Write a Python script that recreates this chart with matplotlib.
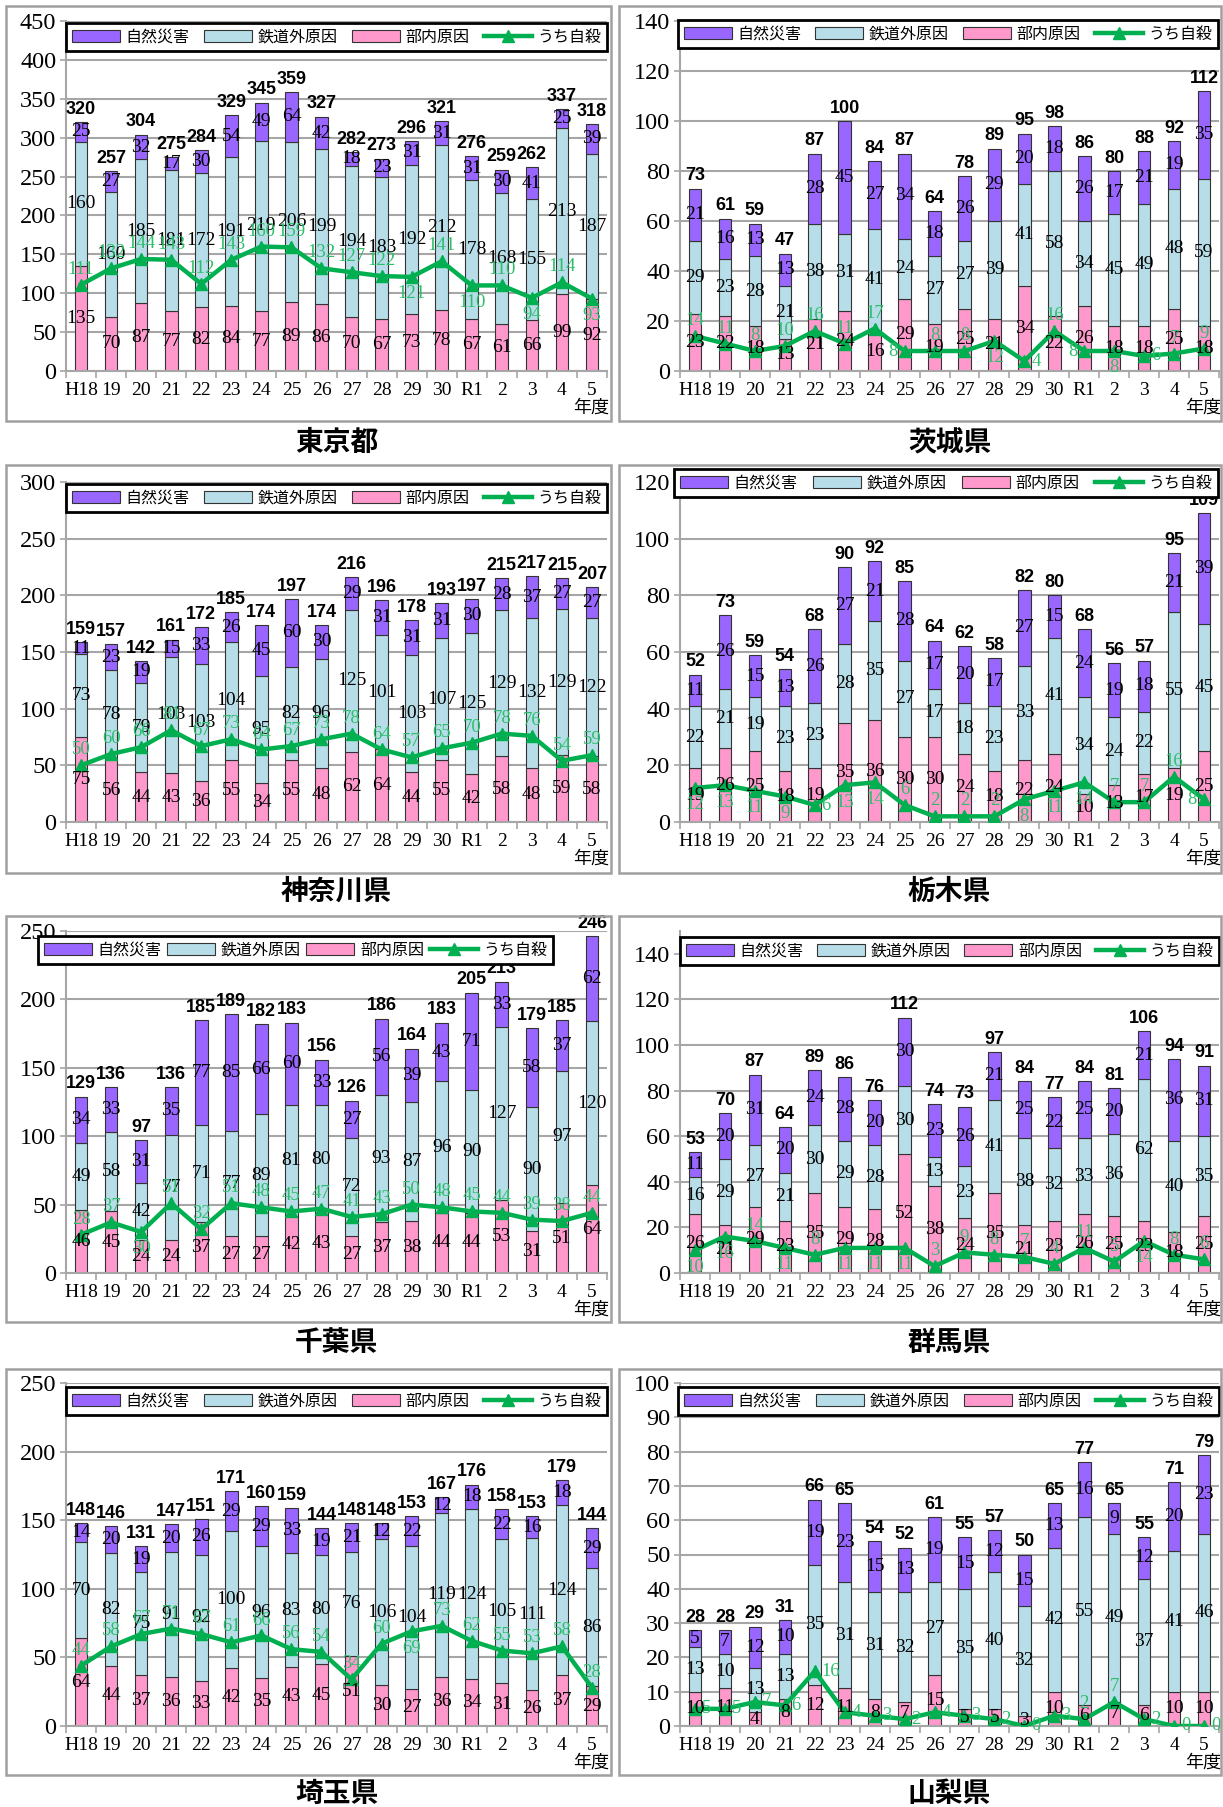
import numpy as np
import matplotlib.pyplot as plt
from matplotlib.patches import Patch, Rectangle
from matplotlib.lines import Line2D

plt.rcParams['font.family'] = ['Liberation Serif', 'Noto Sans CJK JP']

years = ['H18', '19', '20', '21', '22', '23', '24', '25', '26', '27',
         '28', '29', '30', 'R1', '2', '3', '4', '5']

# 自然災害 / 鉄道外原因 / 部内原因 / うち自殺
tokyo_nat = [25, 27, 32, 17, 30, 54, 49, 64, 42, 18, 23, 31, 31, 31, 30, 41, 25, 39]
tokyo_ext = [160, 160, 185, 181, 172, 191, 219, 206, 199, 194, 183, 192, 212, 178, 168, 155, 213, 187]
tokyo_int = [135, 70, 87, 77, 82, 84, 77, 89, 86, 70, 67, 73, 78, 67, 61, 66, 99, 92]
tokyo_sui = [111, 132, 144, 143, 112, 143, 160, 159, 132, 127, 122, 121, 141, 110, 110, 94, 114, 93]

ibaraki_nat = [21, 16, 13, 13, 28, 45, 27, 34, 18, 26, 29, 20, 18, 26, 17, 21, 19, 35]
ibaraki_ext = [29, 23, 28, 21, 38, 31, 41, 24, 27, 27, 39, 41, 58, 34, 45, 49, 48, 59]
ibaraki_int = [23, 22, 18, 13, 21, 24, 16, 29, 19, 25, 21, 34, 22, 26, 18, 18, 25, 18]
ibaraki_sui = [14, 11, 8, 10, 16, 11, 17, 8, 8, 8, 12, 4, 16, 8, 8, 6, 7, 9]

kanagawa_nat = [11, 23, 19, 15, 33, 26, 45, 60, 30, 29, 31, 31, 31, 30, 28, 37, 27, 27]
kanagawa_ext = [73, 78, 79, 103, 103, 104, 95, 82, 96, 125, 101, 103, 107, 125, 129, 132, 129, 122]
kanagawa_int = [75, 56, 44, 43, 36, 55, 34, 55, 48, 62, 64, 44, 55, 42, 58, 48, 59, 58]
kanagawa_sui = [50, 60, 66, 81, 67, 73, 64, 67, 73, 78, 64, 57, 65, 70, 78, 76, 54, 59]

tochigi_nat = [11, 26, 15, 13, 26, 27, 21, 28, 17, 20, 17, 27, 15, 24, 19, 18, 21, 39]
tochigi_ext = [22, 21, 19, 23, 23, 28, 35, 27, 17, 18, 23, 33, 41, 34, 24, 22, 55, 45]
tochigi_int = [19, 26, 25, 18, 19, 35, 36, 30, 30, 24, 18, 22, 24, 10, 13, 17, 19, 25]
tochigi_sui = [12, 13, 11, 9, 6, 13, 14, 6, 2, 2, 2, 8, 11, 14, 7, 7, 16, 8]

chiba_nat = [34, 33, 31, 35, 77, 85, 66, 60, 33, 27, 56, 39, 43, 71, 33, 58, 37, 62]
chiba_ext = [49, 58, 42, 77, 71, 77, 89, 81, 80, 72, 93, 87, 96, 90, 127, 90, 97, 120]
chiba_int = [46, 45, 24, 24, 37, 27, 27, 42, 43, 27, 37, 38, 44, 44, 53, 31, 51, 64]
chiba_sui = [28, 37, 30, 51, 32, 51, 48, 45, 47, 41, 43, 50, 48, 45, 44, 39, 38, 44]

gunma_nat = [11, 20, 31, 20, 24, 28, 20, 30, 23, 26, 21, 25, 22, 25, 20, 21, 36, 31]
gunma_ext = [16, 29, 27, 21, 30, 29, 28, 30, 13, 23, 41, 38, 32, 33, 36, 62, 40, 35]
gunma_int = [26, 21, 29, 23, 35, 29, 28, 52, 38, 24, 35, 21, 23, 26, 25, 23, 18, 25]
gunma_sui = [10, 16, 14, 11, 8, 11, 11, 11, 3, 9, 8, 7, 4, 11, 5, 14, 8, 6]

saitama_nat = [14, 20, 19, 20, 26, 29, 29, 33, 19, 21, 12, 22, 12, 18, 22, 16, 18, 29]
saitama_ext = [70, 82, 75, 91, 92, 100, 96, 83, 80, 76, 106, 104, 119, 124, 105, 111, 124, 86]
saitama_int = [64, 44, 37, 36, 33, 42, 35, 43, 45, 51, 30, 27, 36, 34, 31, 26, 37, 29]
saitama_sui = [44, 58, 67, 71, 67, 61, 66, 56, 54, 34, 60, 69, 73, 62, 55, 53, 58, 28]

yamanashi_nat = [5, 7, 12, 10, 19, 23, 15, 13, 19, 15, 12, 15, 13, 16, 9, 12, 20, 23]
yamanashi_ext = [13, 10, 13, 13, 35, 31, 31, 32, 27, 35, 40, 32, 42, 55, 49, 37, 41, 46]
yamanashi_int = [10, 11, 4, 8, 12, 11, 8, 7, 15, 5, 5, 3, 10, 6, 7, 6, 10, 10]
yamanashi_sui = [5, 5, 7, 6, 16, 4, 3, 2, 4, 3, 2, 0, 3, 2, 7, 2, 0, 0]

W, H = 1223, 1807
C_NAT, C_EXT, C_INT = '#9966FF', '#B7DEE8', '#FF99CC'
C_LINE, C_LTXT = '#00B050', '#2DBE6C'
GRID = '#A6A6A6'
CJK = ['Noto Sans CJK JP', 'DejaVu Sans']

# column / row geometry in pixels
cols = [dict(box=(6, 611), ax=(66, 607)), dict(box=(619, 1221), ax=(680, 1219))]
rows = [dict(box=(6, 421), ax=(21, 371), title=443),
        dict(box=(465, 873), ax=(482, 822), title=892),
        dict(box=(916, 1322), ax=(931, 1273), title=1343),
        dict(box=(1369, 1775), ax=(1383, 1726), title=1794)]

# name, data, ymax, ystep, ytick max, suicide label side, legend box (x0, x1, ytop)
panels = [
    ('東京都', tokyo_nat, tokyo_ext, tokyo_int, tokyo_sui, 450, 50, 450, 'aaaaaaaaaaabababab', (66, 607, 23)),
    ('茨城県', ibaraki_nat, ibaraki_ext, ibaraki_int, ibaraki_sui, 140, 20, 140, 'aaaaaaalaabralbraa', (678, 1218, 20)),
    ('神奈川県', kanagawa_nat, kanagawa_ext, kanagawa_int, kanagawa_sui, 300, 50, 300, 'aaaaaaaaaaaaaaaaaa', (66, 607, 484)),
    ('栃木県', tochigi_nat, tochigi_ext, tochigi_int, tochigi_sui, 120, 20, 120, 'bbbbrbbaaaabbbaaal', (674, 1218, 469)),
    ('千葉県', chiba_nat, chiba_ext, chiba_int, chiba_sui, 250, 50, 250, 'aabaaaaaaaaaaaaaaa', (38, 553, 936)),
    ('群馬県', gunma_nat, gunma_ext, gunma_int, gunma_sui, 150, 20, 140, 'bbababbbaaaaaaabaa', (680, 1219, 937)),
    ('埼玉県', saitama_nat, saitama_ext, saitama_int, saitama_sui, 250, 50, 250, 'aaaaaaaaaaabaaaaaa', (66, 607, 1387)),
    ('山梨県', yamanashi_nat, yamanashi_ext, yamanashi_int, yamanashi_sui, 100, 10, 100, 'rrrrrrrrrrrrraarrr', (678, 1219, 1387)),
]

fig = plt.figure(figsize=(W / 100, H / 100), dpi=100)
x = np.arange(len(years))
bw = 0.42
offs = {'a': ((0, 5), 'center', 'bottom'), 'b': ((0, -6), 'center', 'top'),
        'r': ((5, 0), 'left', 'center'), 'l': ((-5, 0), 'right', 'center')}

for i, (name, nat, ext, inn, sui, ymax, ystep, ytop, sides, leg) in enumerate(panels):
    c = cols[i % 2]
    r = rows[i // 2]
    bx0, bx1 = c['box']
    by0, by1 = r['box']
    fig.add_artist(Rectangle((bx0 / W, 1 - by1 / H), (bx1 - bx0) / W, (by1 - by0) / H,
                             transform=fig.transFigure, fill=False, edgecolor='#A0A0A0', lw=1.8))
    ax0, ax1 = c['ax']
    ay0, ay1 = r['ax']
    ax = fig.add_axes([ax0 / W, 1 - ay1 / H, (ax1 - ax0) / W, (ay1 - ay0) / H])
    nat, ext, inn, sui = map(np.array, (nat, ext, inn, sui))
    tot = nat + ext + inn

    ax.bar(x, inn, bw, color=C_INT, edgecolor='#333333', lw=0.8, zorder=2)
    ax.bar(x, ext, bw, bottom=inn, color=C_EXT, edgecolor='#333333', lw=0.8, zorder=2)
    ax.bar(x, nat, bw, bottom=inn + ext, color=C_NAT, edgecolor='#333333', lw=0.8, zorder=2)
    ax.plot(x, sui, color=C_LINE, lw=3.2, marker='^', ms=9, zorder=4)

    for j in range(len(x)):
        ax.text(x[j], inn[j] / 2, str(inn[j]), ha='center', va='center', fontsize=14, zorder=5)
        ax.text(x[j], inn[j] + ext[j] / 2, str(ext[j]), ha='center', va='center', fontsize=14, zorder=5)
        ax.text(x[j], inn[j] + ext[j] + nat[j] / 2, str(nat[j]), ha='center', va='center', fontsize=14, zorder=5)
        ax.annotate(str(tot[j]), (x[j], tot[j]), xytext=(0, 3), textcoords='offset points',
                    ha='center', va='bottom', fontsize=13, fontweight='bold',
                    family='Liberation Sans', zorder=5)
        off, ha, va = offs[sides[j]]
        ax.annotate(str(sui[j]), (x[j], sui[j]), xytext=off, textcoords='offset points',
                    ha=ha, va=va, fontsize=13.5, color=C_LTXT, zorder=6)

    ax.set_xlim(-0.5, len(x) - 0.5)
    ax.set_ylim(0, ymax)
    ax.set_yticks(np.arange(0, ytop + 1, ystep))
    ax.set_xticks(x)
    ax.set_xticklabels(years)
    ax.set_xticks(np.arange(-0.5, len(x), 1), minor=True)
    ax.tick_params(axis='x', which='major', length=0, labelsize=14, pad=8)
    ax.tick_params(axis='x', which='minor', length=5, color=GRID, width=1.2)
    ax.tick_params(axis='y', labelsize=17.5, length=4, color=GRID, width=1.2, pad=3)
    ax.yaxis.grid(True, color=GRID, lw=1.5)
    ax.set_axisbelow(True)
    for s in ('top', 'right'):
        ax.spines[s].set_visible(False)
    for s in ('left', 'bottom'):
        ax.spines[s].set_color(GRID)
        ax.spines[s].set_linewidth(1.5)

    handles = [Patch(facecolor=C_NAT, edgecolor='#333333', lw=0.8),
               Patch(facecolor=C_EXT, edgecolor='#333333', lw=0.8),
               Patch(facecolor=C_INT, edgecolor='#333333', lw=0.8),
               Line2D([], [], color=C_LINE, lw=3.2, marker='^', ms=9)]
    lx0, lx1, ly = leg
    lg = ax.legend(handles, ['自然災害', '鉄道外原因', '部内原因', 'うち自殺'],
                   loc='upper left', ncol=4, mode='expand',
                   bbox_to_anchor=(lx0 / W, 1 - ly / H - 0.001, (lx1 - lx0) / W, 0.001),
                   bbox_transform=fig.transFigure, prop={'family': CJK, 'size': 11.5},
                   handlelength=3.0, handleheight=0.7, handletextpad=0.35, columnspacing=0.5,
                   borderaxespad=0, borderpad=0.35, fancybox=False, framealpha=1,
                   edgecolor='black')
    lg.get_frame().set_linewidth(2)
    lg.set_zorder(10)

    fig.text((ax1 + 2) / W, 1 - (ay1 + 37) / H, '年度', ha='right', va='center',
             family=CJK, fontsize=13)
    fig.text((ax0 + ax1) / 2 / W, 1 - r['title'] / H, name, ha='center', va='center',
             family=CJK, fontsize=20, fontweight='bold')

fig.savefig('out.png', dpi=100)
